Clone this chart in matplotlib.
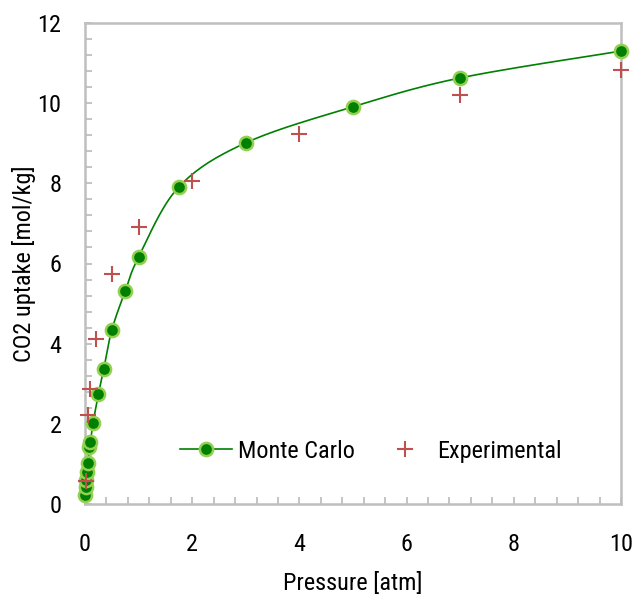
import numpy as np
import matplotlib
matplotlib.use("Agg")
import matplotlib.pyplot as plt
from matplotlib import font_manager as fm
from matplotlib.ticker import MultipleLocator

# ---- data ----
mc_pressure = [0.005, 0.01, 0.02, 0.04, 0.06, 0.08, 0.1, 0.15, 0.25, 0.35, 0.5, 0.75, 1.0, 1.75, 3, 5, 7, 10]
mc_uptake = [0.22, 0.43, 0.60, 0.81, 1.02, 1.41, 1.55, 2.02, 2.74, 3.37, 4.34, 5.31, 6.16, 7.91, 9.01, 9.91, 10.63, 11.30]
exp_pressure = [0.01, 0.05, 0.1, 0.2, 0.5, 1.0, 2.0, 4.0, 7.0, 10.0]
exp_uptake = [0.57, 2.21, 2.86, 4.11, 5.74, 6.91, 8.06, 9.23, 10.2, 10.83]
x_label = "Pressure [atm]"
y_label = "CO2 uptake [mol/kg]"
series_names = ["Monte Carlo", "Experimental"]

names = {f.name for f in fm.fontManager.ttflist}
fam = "Roboto Condensed" if "Roboto Condensed" in names else "Liberation Sans"
plt.rcParams["font.family"] = [fam, "DejaVu Sans"]
FS = 17.5

fig = plt.figure(figsize=(6.34, 6.0), dpi=100)
ax = fig.add_axes([85 / 634, 1 - 504 / 600, 536 / 634, 481 / 600])

# smooth line (Catmull-Rom through the points, normalized space)
px = np.array(mc_pressure) / 10.0
py = np.array(mc_uptake) / 12.0
P = np.column_stack([px, py])
P = np.vstack([P[0], P, P[-1]])
curve = []
for i in range(1, len(P) - 2):
    p0, p1, p2, p3 = P[i - 1], P[i], P[i + 1], P[i + 2]
    for t in np.linspace(0, 1, 20, endpoint=False):
        t2, t3 = t * t, t * t * t
        pt = 0.5 * ((2 * p1) + (-p0 + p2) * t + (2 * p0 - 5 * p1 + 4 * p2 - p3) * t2 + (-p0 + 3 * p1 - 3 * p2 + p3) * t3)
        curve.append(pt)
curve.append(P[-2])
curve = np.array(curve)
ax.plot(curve[:, 0] * 10, curve[:, 1] * 12, color="#008000", lw=1.2, zorder=2, clip_on=False)

mk = dict(marker="o", markersize=9.5, markerfacecolor="#008000",
          markeredgecolor="#92D050", markeredgewidth=1.8)
ax.plot(mc_pressure, mc_uptake, linestyle="none", zorder=3, clip_on=False, **mk)
ax.plot(exp_pressure, exp_uptake, linestyle="none", marker="+", markersize=11,
        markeredgewidth=1.5, color="#C0504D", zorder=4, clip_on=False)

# legend proxies
h1, = ax.plot([], [], color="#008000", lw=1.2, **mk)
h2, = ax.plot([], [], linestyle="none", marker="+", markersize=11, markeredgewidth=1.5, color="#C0504D")
ax.legend([h1, h2], series_names, loc="center left", bbox_to_anchor=(0.177, 0.11), ncol=2,
          frameon=False, fontsize=FS, handlelength=2.14, columnspacing=1.0, handletextpad=0.25,
          borderpad=0, borderaxespad=0)

ax.set_xlim(0, 10)
ax.set_ylim(0, 12)
ax.xaxis.set_major_locator(MultipleLocator(2))
ax.xaxis.set_minor_locator(MultipleLocator(0.4))
ax.yaxis.set_major_locator(MultipleLocator(2))
ax.yaxis.set_minor_locator(MultipleLocator(0.4))

for s in ["left", "bottom", "top", "right"]:
    ax.spines[s].set_color("#BFBFBF")
    ax.spines[s].set_linewidth(1.8)
ax.tick_params(which="both", direction="in", color="#BFBFBF", width=1.3, length=5, labelsize=FS)
ax.tick_params(axis="x", which="major", pad=21)
ax.tick_params(axis="y", which="major", pad=17)
ax.set_xlabel(x_label, fontsize=FS)
ax.set_ylabel(y_label, fontsize=FS)
ax.xaxis.set_label_coords(0.5, (504 - 572) / 481)
ax.yaxis.set_label_coords((36 - 85) / 536, 0.5)

fig.savefig("out.png", dpi=100)
